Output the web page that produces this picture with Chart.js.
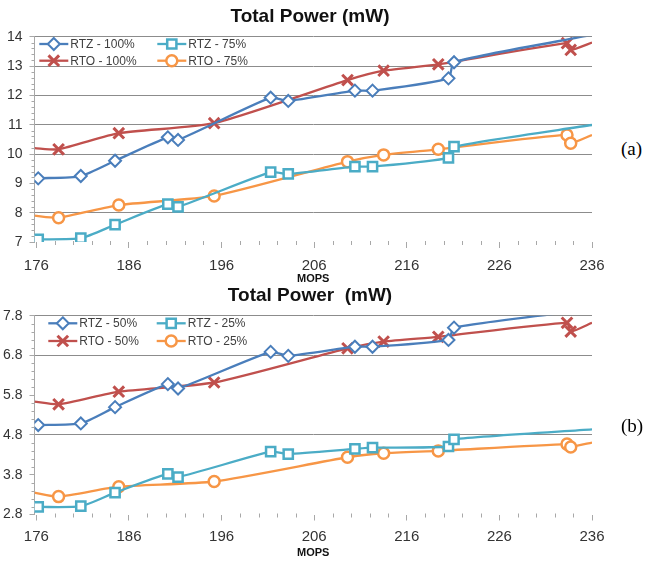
<!DOCTYPE html>
<html><head><meta charset="utf-8">
<script src="https://cdn.jsdelivr.net/npm/chart.js@4.4.0/dist/chart.umd.min.js"></script>
<style>
html,body{margin:0;padding:0;background:#fff;}
#wrap{position:relative;width:645px;height:561px;overflow:hidden;background:#fff;}
canvas{position:absolute;left:0;}
.tag{position:absolute;left:621px;font-family:"Liberation Serif","DejaVu Serif",serif;font-size:19px;color:#000;line-height:1;white-space:nowrap;}
</style></head><body>
<div id="wrap">
<canvas id="ca" width="620" height="290" style="top:0"></canvas>
<canvas id="cb" width="620" height="277" style="top:284px"></canvas>
<div class="tag" style="top:139px">(a)</div>
<div class="tag" style="top:416px">(b)</div>
</div>
<script>
// ---- data ----
const mopsTicks = [176, 186, 196, 206, 216, 226, 236];
const xMin = 175.8, xMax = 236;
const rtzMops = [176.2, 180.8, 184.5, 190.2, 191.3, 201.3, 203.2, 210.4, 212.3, 220.5, 221.1];
const rtoMops = [178.4, 184.9, 195.2, 209.6, 213.5, 219.4, 233.3, 233.7];

// chart (a)
const yTicksA = [7, 8, 9, 10, 11, 12, 13, 14];
const rtz100 = [9.17, 9.25, 9.77, 10.57, 10.48, 11.92, 11.81, 12.16, 12.16, 12.58, 13.13];
const rto100 = [10.16, 10.71, 11.05, 12.52, 12.84, 13.06, 13.78, 13.55];
const rtz75  = [7.09, 7.13, 7.59, 8.29, 8.20, 9.38, 9.32, 9.57, 9.57, 9.87, 10.25];
const rto75  = [7.83, 8.26, 8.57, 9.74, 9.97, 10.16, 10.65, 10.37];
// values where the lines meet the left / right plot borders (no marker)
const rtz100Edge = [null, 14.06];
const rto100Edge = [10.2, 13.8];
const rtz75Edge  = [null, 10.99];
const rto75Edge  = [7.9, 10.65];

// chart (b)
const yTicksB = [2.8, 3.8, 4.8, 5.8, 6.8, 7.8];
const rtz50 = [5.05, 5.09, 5.50, 6.08, 5.97, 6.89, 6.79, 7.02, 7.02, 7.19, 7.50];
const rto50 = [5.57, 5.89, 6.12, 6.98, 7.15, 7.27, 7.62, 7.40];
const rtz25 = [2.99, 3.01, 3.35, 3.82, 3.74, 4.38, 4.32, 4.45, 4.48, 4.51, 4.69];
const rto25 = [3.25, 3.50, 3.63, 4.24, 4.34, 4.40, 4.57, 4.50];
const rtz50Edge = [null, 7.96];
const rto50Edge = [5.64, 7.62];
const rtz25Edge = [null, 4.94];
const rto25Edge = [3.35, 4.61];

// ---- styling ----
const FAM = '"Liberation Sans", Arial, sans-serif';
const BLUE = '#4A7EBB', RED = '#C0504D', TEAL = '#4BACC6', ORANGE = '#F79646';
const MK = {
  rectRot:  {r: 6,   bw: 2},
  crossRot: {r: 7.5, bw: 3},
  rect:     {r: 6.5, bw: 2.5},
  circle:   {r: 5.5, bw: 2.5}
};

function buildData(xs, ys, edge) {
  const d = [];
  if (edge[0] !== null) d.push({x: xMin, y: edge[0], edge: true});
  xs.forEach((x, i) => d.push({x: x, y: ys[i]}));
  if (edge[1] !== null) d.push({x: xMax, y: edge[1], edge: true});
  return d;
}
function ds(label, xs, ys, edge, color, style) {
  const m = MK[style];
  return {
    label, data: buildData(xs, ys, edge),
    borderColor: color, backgroundColor: '#ffffff',
    borderWidth: 2.3, tension: 0.2,
    pointStyle: style,
    pointRadius: c => (c.raw && c.raw.edge) ? 0 : m.r,
    pointBorderWidth: m.bw, pointBackgroundColor: '#ffffff', pointBorderColor: color,
    mk: style
  };
}

function drawMarker(ctx, style, x, y) {
  const m = MK[style];
  ctx.lineWidth = m.bw;
  ctx.beginPath();
  if (style === 'rectRot') {
    ctx.moveTo(x, y - m.r); ctx.lineTo(x + m.r, y); ctx.lineTo(x, y + m.r); ctx.lineTo(x - m.r, y); ctx.closePath();
    ctx.fill(); ctx.stroke();
  } else if (style === 'rect') {
    const s = m.r * Math.SQRT1_2;
    ctx.rect(x - s, y - s, 2 * s, 2 * s); ctx.fill(); ctx.stroke();
  } else if (style === 'circle') {
    ctx.arc(x, y, m.r, 0, Math.PI * 2); ctx.fill(); ctx.stroke();
  } else {
    const s = m.r * Math.SQRT1_2;
    ctx.moveTo(x - s, y - s); ctx.lineTo(x + s, y + s);
    ctx.moveTo(x + s, y - s); ctx.lineTo(x - s, y + s); ctx.stroke();
  }
}

const insideLegend = {
  id: 'insideLegend',
  afterDatasetsDraw(chart, args, opts) {
    const ctx = chart.ctx, a = chart.chartArea;
    ctx.save();
    chart.data.datasets.forEach((d, i) => {
      const col = i % 2, row = Math.floor(i / 2);
      const x0 = a.left + opts.cols[col], y = a.top + opts.rows[row];
      ctx.strokeStyle = d.borderColor; ctx.lineWidth = d.borderWidth;
      ctx.beginPath(); ctx.moveTo(x0, y); ctx.lineTo(x0 + 29, y); ctx.stroke();
      ctx.fillStyle = '#ffffff'; ctx.strokeStyle = d.borderColor;
      drawMarker(ctx, d.mk, x0 + 14.5, y);
      ctx.fillStyle = '#404040';
      ctx.font = '12px ' + FAM; ctx.textBaseline = 'middle'; ctx.textAlign = 'left';
      ctx.fillText(d.label, x0 + 31, y + 0.5);
    });
    ctx.restore();
  }
};

const minorTicks = {
  id: 'minorTicks',
  afterDraw(chart, args, opts) {
    const {ctx, chartArea: a, scales: {x, y}} = chart;
    ctx.save(); ctx.strokeStyle = '#a8a8a8'; ctx.lineWidth = 1; ctx.beginPath();
    for (let k = 0; k <= 30; k++) {
      if (k % 5 === 0) continue;
      const px = Math.round(x.getPixelForValue(176 + 2 * k)) + 0.5;
      ctx.moveTo(px, a.bottom - 1); ctx.lineTo(px, a.bottom + 3);
    }
    const lo = opts.yMin, n = Math.round((opts.yMax - opts.yMin) / 0.2);
    for (let k = 1; k < n; k++) {
      if (k % 5 === 0) continue;
      const py = Math.round(y.getPixelForValue(lo + 0.2 * k)) + 0.5;
      ctx.moveTo(a.left - 3, py); ctx.lineTo(a.left, py);
    }
    ctx.stroke(); ctx.restore();
  }
};

function makeChart(id, cfg) {
  const near = (v, list) => list.some(h => Math.abs(h - v) < 1e-6);
  return new Chart(document.getElementById(id), {
    type: 'line',
    data: {datasets: cfg.datasets},
    plugins: [insideLegend, minorTicks],
    options: {
      responsive: false, animation: false, events: [],
      layout: {padding: 0},
      plugins: {
        legend: {display: false}, tooltip: {enabled: false},
        title: {display: true, text: cfg.title, color: '#111',
          font: {family: FAM, size: 19, weight: 'bold'},
          padding: cfg.titlePad},
        insideLegend: {cols: cfg.legendCols, rows: cfg.legendRows},
        minorTicks: {yMin: cfg.yTicks[0], yMax: cfg.yTicks[cfg.yTicks.length - 1]}
      },
      scales: {
        x: {
          type: 'linear', min: xMin, max: xMax,
          afterBuildTicks: s => { s.ticks = mopsTicks.map(v => ({value: v})); },
          ticks: {callback: v => String(v), color: '#333', font: {family: FAM, size: 15, lineHeight: 1},
            padding: cfg.xPad, maxRotation: 0, autoSkip: false},
          grid: {display: true, drawOnChartArea: false, drawTicks: true, tickLength: 6, tickColor: '#a8a8a8'},
          border: {display: false},
          title: {display: true, text: 'MOPS', color: '#111', font: {family: FAM, size: 11, weight: 'bold', lineHeight: 1.2},
            padding: {top: 0, bottom: cfg.mopsPad}},
          afterFit: s => { s.height = cfg.xHeight; s.paddingLeft = 0; s.paddingRight = 28; }
        },
        y: {
          type: 'linear', min: cfg.yTicks[0], max: cfg.yTicks[cfg.yTicks.length - 1],
          afterBuildTicks: s => { s.ticks = cfg.yTicks.map(v => ({value: v})); },
          ticks: {callback: cfg.yFmt, color: '#333', font: {family: FAM, size: 14}, padding: 7},
          grid: {color: c => (c.tick && near(c.tick.value, cfg.hideGrid)) ? 'rgba(0,0,0,0)' : '#8c8c8c',
            tickColor: '#a8a8a8', tickLength: 5, lineWidth: 1},
          border: {display: true, color: '#a8a8a8', width: 1},
          afterFit: s => { s.width = 34.5; s.paddingTop = 0; s.paddingBottom = 0; }
        }
      }
    }
  });
}

makeChart('ca', {
  title: 'Total Power (mW)',
  titlePad: {top: 5, bottom: 8.9},
  yTicks: yTicksA, yFmt: v => String(v), hideGrid: [7, 9],
  xPad: 10.5, mopsPad: 4.4, xHeight: 48,
  legendCols: [4.8, 122.8], legendRows: [7.3, 24],
  datasets: [
    ds('RTZ - 100%', rtzMops, rtz100, rtz100Edge, BLUE, 'rectRot'),
    ds('RTZ - 75%',  rtzMops, rtz75,  rtz75Edge,  TEAL, 'rect'),
    ds('RTO - 100%', rtoMops, rto100, rto100Edge, RED, 'crossRot'),
    ds('RTO - 75%',  rtoMops, rto75,  rto75Edge,  ORANGE, 'circle')
  ]
});

makeChart('cb', {
  title: 'Total Power  (mW)',
  titlePad: {top: 0.6, bottom: 8.3},
  yTicks: yTicksB, yFmt: v => v.toFixed(1), hideGrid: [2.8, 3.8, 5.8],
  xPad: 8.7, mopsPad: 1.4, xHeight: 46.5,
  legendCols: [13.8, 122.2], legendRows: [7.6, 25.3],
  datasets: [
    ds('RTZ - 50%', rtzMops, rtz50, rtz50Edge, BLUE, 'rectRot'),
    ds('RTZ - 25%', rtzMops, rtz25, rtz25Edge, TEAL, 'rect'),
    ds('RTO - 50%', rtoMops, rto50, rto50Edge, RED, 'crossRot'),
    ds('RTO - 25%', rtoMops, rto25, rto25Edge, ORANGE, 'circle')
  ]
});
</script>
</body></html>
